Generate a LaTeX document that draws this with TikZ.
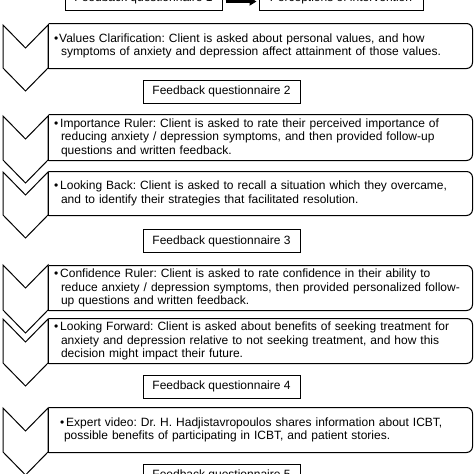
\documentclass[tikz,border=0pt]{standalone}
\usepackage{fontspec}
\setmainfont{Liberation Sans}
\usetikzlibrary{arrows.meta}

\begin{document}
\frenchspacing
\begin{tikzpicture}[
    x=1pt, y=-1pt,
    font=\fontsize{12}{13.5}\selectfont,
    line width=1pt,
    stepbox/.style={minimum width=423pt, minimum height=44pt, inner xsep=5pt, inner ysep=0pt, text width=413pt, align=left},
    qbox/.style={draw, minimum width=157pt, minimum height=23pt, inner sep=0pt},
    chevron/.style={draw, line join=miter},
    link/.style={-{Triangle[length=7pt,width=8pt]}, line width=2.2pt}
]
\useasboundingbox (0,0) rectangle (474,474);

% Questionnaires
\node[qbox] (fq1) at (143.5,-1.5) {Feedback questionnaire 1};
\node[qbox, minimum width=164pt] (poi) at (341,-1.5) {Perceptions of intervention};
\node[qbox] (fq2) at (221.5,91.5) {Feedback questionnaire 2};
\node[qbox] (fq3) at (221.5,241) {Feedback questionnaire 3};
\node[qbox] (fq4) at (221.5,386.5) {Feedback questionnaire 4};
\node[qbox] (fq5) at (221.5,475.5) {Feedback questionnaire 5};

\draw[link, shorten <=3pt, shorten >=2pt] ([yshift=-3pt]fq1.east) -- ([yshift=-3pt]poi.west);

% Steps
\node[stepbox] (vc) at (260.5,46) {\textbullet\kern1pt Values Clarification: Client is asked about personal values, and how\newline
    \hspace*{7pt}symptoms of anxiety and depression affect attainment of those values.};
\node[stepbox, minimum height=45pt] (ir) at (260.5,137.5) {\textbullet\kern2pt Importance Ruler: Client is asked to rate their perceived importance of\newline
    \hspace*{7pt}reducing anxiety / depression symptoms, and then provided follow-up\newline
    \hspace*{7pt}questions and written feedback.};
\node[stepbox, minimum height=43pt] (lb) at (260.5,193.5) {\textbullet\kern2pt Looking Back: Client is asked to recall a situation which they overcame,\newline
    \hspace*{7pt}and to identify their strategies that facilitated resolution.};
\node[stepbox] (cr) at (260.5,288) {\textbullet\kern2pt Confidence Ruler: Client is asked to rate confidence in their ability to\newline
    \hspace*{7pt}reduce anxiety / depression symptoms, then provided personalized follow-\newline
    \hspace*{7pt}up questions and written feedback.};
\node[stepbox] (lf) at (260.5,341) {\textbullet\kern2pt Looking Forward: Client is asked about benefits of seeking treatment for\newline
    \hspace*{7pt}anxiety and depression relative to not seeking treatment, and how this\newline
    \hspace*{7pt}decision might impact their future.};
\node[stepbox] (ev) at (260.5,430) {\hspace*{6pt}\textbullet\kern2pt Expert video: Dr. H. Hadjistavropoulos shares information about ICBT,\newline
    \hspace*{10pt}possible benefits of participating in ICBT, and patient stories.};

% Outlines, rounded on the right only
\foreach \s in {vc,ir,lb,cr,lf,ev} {
    \draw[rounded corners=6pt] (\s.north west) -- (\s.north east) -- (\s.south east) -- (\s.south west);
    \draw (\s.south west) -- (\s.north west);
}

% Chevrons
\foreach \t/\b in {25/68, 116/160, 172/215, 265/310, 319/363, 408/452}
    \draw[chevron] (3,\t) -- (25.5,\t+23) -- (48,\t) -- (48,\b) -- (25.5,\b+23) -- (3,\b) -- cycle;

\end{tikzpicture}
\end{document}
